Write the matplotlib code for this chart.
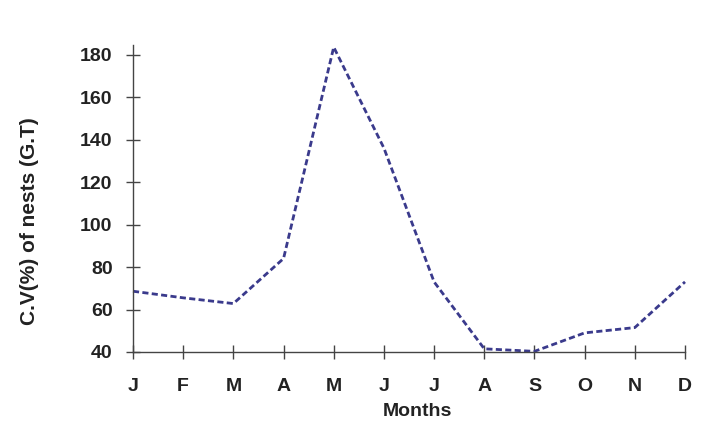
import matplotlib
matplotlib.use("Agg")
import matplotlib.pyplot as plt

plt.rcParams['font.family'] = ['Liberation Sans', 'DejaVu Sans']

months = ['J', 'F', 'M', 'A', 'M', 'J', 'J', 'A', 'S', 'O', 'N', 'D']
cv_nests = [68.6, 65.5, 62.8, 84, 183.5, 136, 73, 41.5, 40.3, 49, 51.5, 73]

fig = plt.figure(figsize=(7.10, 4.46), dpi=100)
ax = fig.add_axes([133/710, 1 - 352/446, (685-133)/710, (352-45)/446])

x = list(range(len(months)))
ax.plot(x, cv_nests, color='#3a3a8c', linestyle=(0, (2.2, 1.2)), linewidth=2.0,
        clip_on=False)

ax.set_xlim(0, 11)
ax.set_ylim(40, 184.5)
ax.set_xticks(x)
ax.set_xticklabels(months)
ax.set_yticks(range(40, 181, 20))

for side in ['top', 'right']:
    ax.spines[side].set_visible(False)
for side in ['left', 'bottom']:
    ax.spines[side].set_color('#444444')
    ax.spines[side].set_linewidth(1.0)

ax.tick_params(direction='inout', length=9.5, width=1.0, color='#444444',
               labelsize=14, labelcolor='#222222')
ax.tick_params(axis='x', pad=14)
ax.tick_params(axis='y', pad=10)
for lbl in ax.get_xticklabels() + ax.get_yticklabels():
    lbl.set_fontweight('bold')

ax.set_xlabel('Months', fontsize=14, fontweight='bold', color='#222222',
              va='center', ha='center')
ax.xaxis.set_label_coords(0.516, -0.195)
ax.set_ylabel('C.V(%) of nests (G.T)', fontsize=15, fontweight='bold',
              color='#222222', va='center', ha='center')
ax.yaxis.set_label_coords(-0.187, 0.427)

fig.savefig('out.png', dpi=100, facecolor='white')
